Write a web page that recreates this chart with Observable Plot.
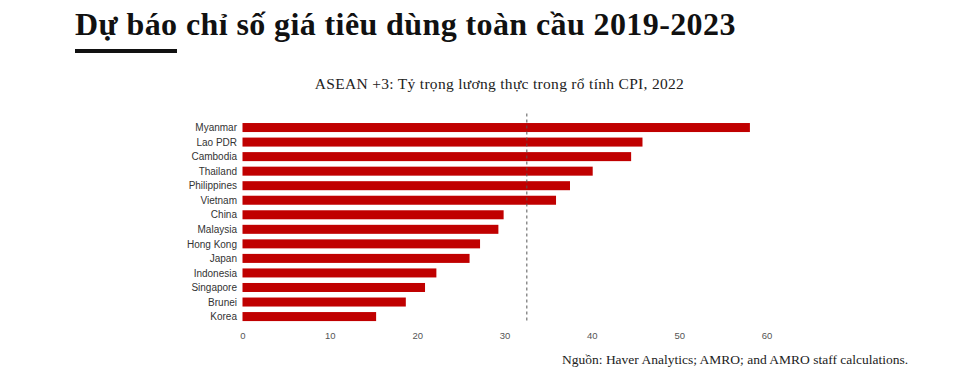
<!DOCTYPE html>
<html>
<head>
<meta charset="utf-8">
<script src="https://cdn.jsdelivr.net/npm/d3@7"></script>
<script src="https://cdn.jsdelivr.net/npm/@observablehq/plot@0.6"></script>
<style>
  html, body { margin: 0; padding: 0; background: #fff; }
  body { width: 967px; height: 375px; position: relative; overflow: hidden; }
  #title { position: absolute; left: 75px; top: 5px; font-family: "Liberation Serif", serif; font-weight: bold; font-size: 32px; letter-spacing: 0.4px; color: #111; white-space: nowrap; line-height: 38px; }
  #rule { position: absolute; left: 75px; top: 49px; width: 102px; height: 4px; background: #111; }
  #subtitle { position: absolute; left: 0; width: 967px; top: 74px; text-align: center; padding-left: 32px; box-sizing: border-box; font-family: "Liberation Serif", serif; font-size: 15.5px; letter-spacing: 0.3px; color: #222; white-space: nowrap; line-height: 20px; }
  #chart { position: absolute; left: 0; top: 100px; }
  #caption { position: absolute; left: 562px; top: 351px; font-family: "Liberation Serif", serif; font-size: 13.5px; color: #222; white-space: nowrap; line-height: 17px; }
</style>
</head>
<body>
<div id="title">Dự báo chỉ số giá tiêu dùng toàn cầu 2019-2023</div>
<div id="rule"></div>
<div id="subtitle">ASEAN +3: Tỷ trọng lương thực trong rổ tính CPI, 2022</div>
<div id="chart"></div>
<div id="caption">Nguồn: Haver Analytics; AMRO; and AMRO staff calculations.</div>
<script>
const countries = ["Myanmar", "Lao PDR", "Cambodia", "Thailand", "Philippines", "Vietnam", "China", "Malaysia", "Hong Kong", "Japan", "Indonesia", "Singapore", "Brunei", "Korea"];
const foodShare = [58.1, 45.8, 44.5, 40.1, 37.5, 35.9, 29.9, 29.3, 27.2, 26.0, 22.2, 20.9, 18.7, 15.3];
const averageShare = 32.5;
const xTicks = [0, 10, 20, 30, 40, 50, 60];

const data = countries.map((c, i) => ({country: c, value: foodShare[i]}));

const chart = Plot.plot({
  width: 967,
  height: 250,
  marginLeft: 242.5,
  marginRight: 200.5,
  marginTop: 17.5,
  marginBottom: 23.4,
  style: {background: "transparent", overflow: "visible"},
  x: {domain: [0, 60]},
  y: {domain: countries, padding: 0.38, round: false},
  marks: [
    Plot.barX(data, {x: "value", y: "country", fill: "#c00000"}),
    Plot.ruleX([averageShare], {stroke: "#555", strokeWidth: 1, strokeDasharray: "3,3", insetTop: -4, insetBottom: 4}),
    Plot.axisY({tickSize: 0, tickPadding: 6, fontSize: 10, fill: "#333", fontFamily: "Liberation Sans, Arial, sans-serif", label: null}),
    Plot.axisX({ticks: xTicks, tickSize: 0, tickPadding: 5, fontSize: 9.5, fill: "#555", fontFamily: "Liberation Sans, Arial, sans-serif", label: null, tickFormat: d => String(d)})
  ]
});
document.getElementById("chart").appendChild(chart);
</script>
</body>
</html>
